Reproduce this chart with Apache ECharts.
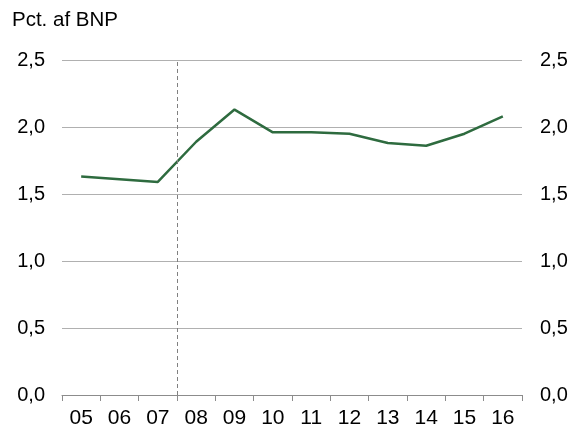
<!DOCTYPE html>
<html>
<head>
<meta charset="utf-8">
<script src="https://cdn.jsdelivr.net/npm/echarts@6/dist/echarts.min.js"></script>
<style>
  html, body { margin: 0; padding: 0; background: #fff; }
  #chart { width: 574px; height: 430px; }
</style>
</head>
<body>
<div id="chart"></div>
<script>
const years = ['05', '06', '07', '08', '09', '10', '11', '12', '13', '14', '15', '16']
const bnpShare = [1.63, 1.61, 1.59, 1.89, 2.13, 1.96, 1.96, 1.95, 1.88, 1.86, 1.95, 2.08]
const breakAt = 3 // between 07 and 08

const chart = echarts.init(document.getElementById('chart'), null, { renderer: 'canvas' })

const fmt = v => v.toFixed(1).replace('.', ',')
const labelStyle = { color: '#000', fontSize: 20, fontFamily: 'Liberation Sans, Arial, sans-serif' }

const yAxisBase = {
  type: 'value',
  min: 0,
  max: 2.5,
  interval: 0.5,
  axisLine: { show: false },
  axisTick: { show: false },
  splitLine: { lineStyle: { color: '#b0b0b0', width: 1 } },
  axisLabel: { ...labelStyle, formatter: fmt }
}

chart.setOption({
  animation: false,
  backgroundColor: '#fff',
  title: {
    text: 'Pct. af BNP',
    left: 7,
    top: 5,
    textStyle: { ...labelStyle, fontWeight: 'normal', fontSize: 20.5 }
  },
  grid: { left: 62, right: 52, top: 60, bottom: 35 },
  xAxis: [
    {
      type: 'category',
      data: years,
      boundaryGap: true,
      axisLine: { lineStyle: { color: '#8c8c8c' } },
      axisTick: { show: true, length: 6, lineStyle: { color: '#8c8c8c' } },
      axisLabel: { ...labelStyle, fontSize: 21, margin: 13, interval: 0 }
    },
    {
      type: 'value',
      min: 0,
      max: years.length,
      show: false
    }
  ],
  yAxis: [
    { ...yAxisBase, position: 'left', axisLabel: { ...yAxisBase.axisLabel, margin: 17 } },
    { ...yAxisBase, position: 'right', splitLine: { show: false }, axisLabel: { ...yAxisBase.axisLabel, margin: 18 } }
  ],
  series: [
    {
      type: 'line',
      data: bnpShare,
      symbol: 'none',
      lineStyle: { color: '#2e6b3f', width: 2.5 },
      z: 3
    },
    {
      type: 'line',
      xAxisIndex: 1,
      data: [],
      markLine: {
        silent: true,
        symbol: 'none',
        label: { show: false },
        lineStyle: { color: '#808080', type: [4, 3], width: 1 },
        data: [{ xAxis: breakAt }]
      }
    }
  ]
})
</script>
</body>
</html>
